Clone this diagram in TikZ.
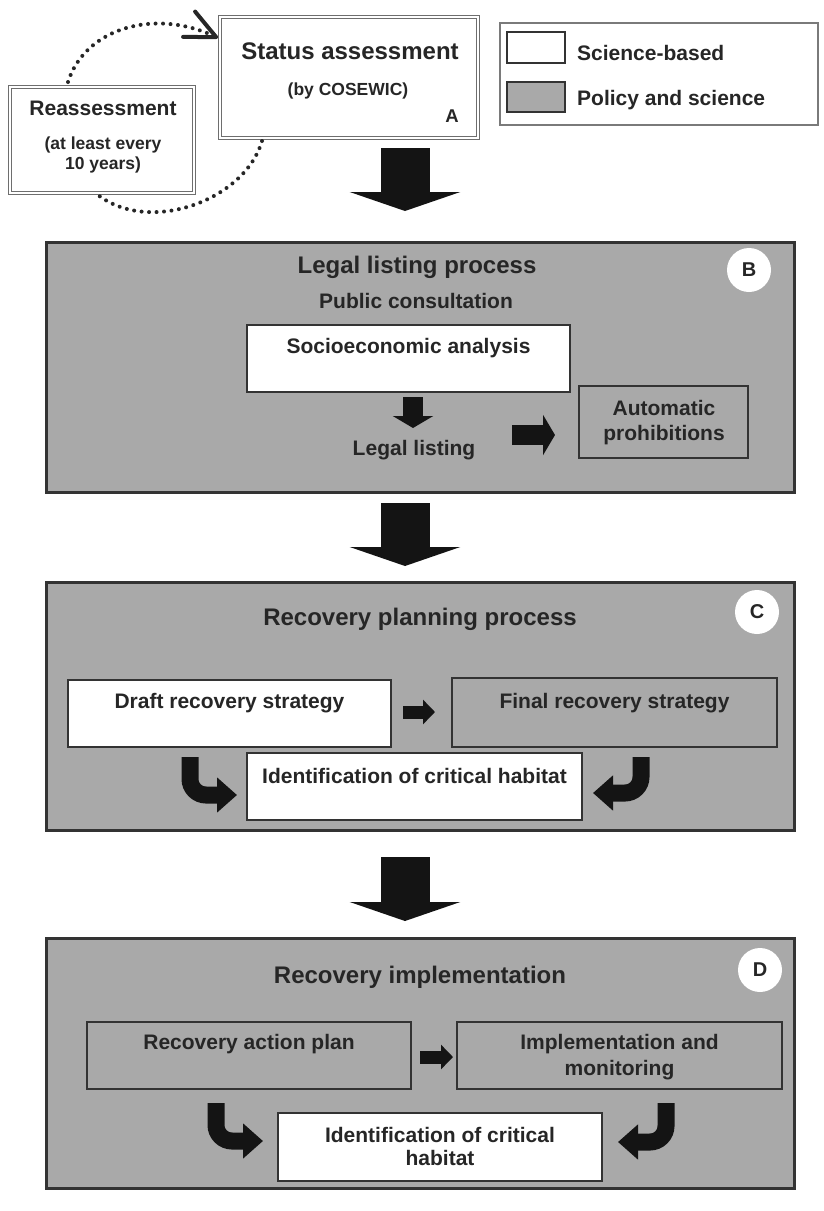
\documentclass[tikz,border=0pt]{standalone}
\usepackage{fontspec}
\setmainfont{Liberation Sans}
\usetikzlibrary{arrows.meta,calc}
\definecolor{panelgray}{HTML}{A9A9A9}
\definecolor{edge}{HTML}{333333}
\definecolor{ink}{HTML}{262626}
\definecolor{dbl}{HTML}{6E6E6E}
\definecolor{legedge}{HTML}{7A7A7A}
\begin{document}
\begin{tikzpicture}[x=1pt,y=-1pt,
  panel/.style={draw=edge,line width=3pt,fill=panelgray,inner sep=0,outer sep=0,anchor=north west},
  wbox/.style={draw=edge,line width=2.5pt,fill=white,inner sep=0,outer sep=0,anchor=north west},
  gbox/.style={draw=edge,line width=2.5pt,fill=panelgray,inner sep=0,outer sep=0,anchor=north west},
  dbox/.style={draw=dbl,double=white,double distance=2pt,line width=1.4pt,fill=white,inner sep=0,outer sep=0,anchor=north west},
  ttl/.style={font=\bfseries\fontsize{24}{28}\selectfont,text=ink,inner sep=0,anchor=base},
  txt/.style={font=\bfseries\fontsize{21}{25}\selectfont,text=ink,inner sep=0,anchor=base},
  sml/.style={font=\bfseries\fontsize{17.5}{21}\selectfont,text=ink,inner sep=0,anchor=base},
  lgd/.style={font=\bfseries\fontsize{21}{25}\selectfont,text=ink,inner sep=0,anchor=base west},
  badge/.style={circle,fill=white,minimum size=44pt,inner sep=0,font=\bfseries\fontsize{20}{24}\selectfont,text=ink},
  bigarrow/.style={draw=black!92,line width=49pt,-{Triangle[length=19pt,width=110pt]}},
  sarrowv/.style={draw=black!92,line width=20pt,-{Triangle[length=12pt,width=40pt]}},
  sarrowh/.style={draw=black!92,line width=13pt,-{Triangle[length=12pt,width=24pt]}},
  carrow/.style={draw=black!92,line width=17pt,rounded corners=16pt,-{Triangle[length=20pt,width=34pt]}},
  dots/.style={draw=ink,line width=4pt,dash pattern=on 0pt off 7.5pt,line cap=round}
]
\useasboundingbox[fill=white] (0,0) rectangle (823,1211);

% ---- A: status assessment ----
\node[dbox,minimum width=258pt,minimum height=121pt] (status) at (220,17) {};
\node[ttl] (statusT) at (350,59) {Status assessment};
\node[sml] (statusS) at (348,95) {(by COSEWIC)};
\node[font=\bfseries\fontsize{18.5}{22}\selectfont,text=ink,inner sep=0,anchor=base] (labA) at (452,122) {A};

\node[dbox,minimum width=184pt,minimum height=106pt] (reassess) at (10,87) {};
\node[font=\bfseries\fontsize{21}{25}\selectfont,text=ink,inner sep=0,anchor=base] (reT) at (103,115) {Reassessment};
\node[sml] (reS1) at (103,149) {(at least every};
\node[sml] (reS2) at (103,169) {10 years)};

\draw[dots,-{Straight Barb[length=30pt,width=28pt,line width=4pt,round]}]
  ($(reassess.north)+(-34,-5)$) .. controls (85,28) and (155,8) .. ($(status.west)+(-2,-39.5)$);
\draw[dots] ($(status.south)+(-87,3)$) .. controls (245,200) and (150,235) .. ($(reassess.south)+(-4,2)$);

% ---- legend ----
\node[draw=legedge,line width=1.8pt,fill=white,inner sep=0,outer sep=0,anchor=north west,
      minimum width=318pt,minimum height=102pt] (legend) at (500,23) {};
\node[wbox,minimum width=58pt,minimum height=31pt] (swW) at (507,32) {};
\node[gbox,minimum width=58pt,minimum height=30pt] (swG) at (507,82) {};
\node[lgd] (lgW) at (577,60) {Science-based};
\node[lgd] (lgG) at (577,105) {Policy and science};

% ---- B ----
\node[panel,minimum width=748pt,minimum height=250pt] (panelB) at (46,242) {};
\node[ttl] (titleB) at (417,273) {Legal listing process};
\node[badge] (badgeB) at (749,270) {B};
\node[txt] (pubcons) at (416,308) {Public consultation};
\node[wbox,minimum width=323pt,minimum height=67pt] (socio) at (247,325) {};
\node[txt] (socioT) at (408.5,353) {Socioeconomic analysis};
\node[txt] (listing) at (414,455) {Legal listing};
\node[gbox,minimum width=169pt,minimum height=72pt] (auto) at (579,386) {};
\node[txt] (autoT1) at (664,415) {Automatic};
\node[txt] (autoT2) at (664,440) {prohibitions};
\draw[sarrowv] ($(socio.south)+(4.5,5)$) -- ($(socio.south)+(4.5,36)$);
\draw[sarrowv] ($(auto.west)+(-67,13)$) -- ($(auto.west)+(-24,13)$);

% ---- C ----
\node[panel,minimum width=748pt,minimum height=248pt] (panelC) at (46,582) {};
\node[ttl] (titleC) at (420,625) {Recovery planning process};
\node[badge] (badgeC) at (757,612) {C};
\node[wbox,minimum width=323pt,minimum height=67pt] (draft) at (68,680) {};
\node[txt] (draftT) at (229.5,708) {Draft recovery strategy};
\node[gbox,minimum width=325pt,minimum height=69pt] (final) at (452,678) {};
\node[txt] (finalT) at (614.5,708) {Final recovery strategy};
\node[wbox,minimum width=335pt,minimum height=67pt] (identC) at (247,753) {};
\node[txt] (identCT) at (414.5,783) {Identification of critical habitat};
\draw[sarrowh] ($(draft.east)+(12,-1.5)$) -- ($(final.west)+(-17,-0.5)$);
\draw[carrow] ($(draft.south west)+(122,10)$) |- ($(identC.west)+(-10,8.5)$);
\draw[carrow] ($(final.south west)+(189,10)$) |- ($(identC.east)+(11,6.5)$);

% ---- D ----
\node[panel,minimum width=748pt,minimum height=250pt] (panelD) at (46,938) {};
\node[ttl] (titleD) at (420,983) {Recovery implementation};
\node[badge] (badgeD) at (760,970) {D};
\node[gbox,minimum width=324pt,minimum height=67pt] (rap) at (87,1022) {};
\node[txt] (rapT) at (249,1049) {Recovery action plan};
\node[gbox,minimum width=325pt,minimum height=67pt] (impl) at (457,1022) {};
\node[txt] (implT1) at (619.5,1049) {Implementation and};
\node[txt] (implT2) at (619.5,1075) {monitoring};
\node[wbox,minimum width=324pt,minimum height=68pt] (identD) at (278,1113) {};
\node[txt] (identDT1) at (440,1142) {Identification of critical};
\node[txt] (identDT2) at (440,1165) {habitat};
\draw[sarrowh] ($(rap.east)+(9,1.5)$) -- ($(impl.west)+(-4,1.5)$);
\draw[carrow] ($(rap.south west)+(129,14)$) |- ($(identD.west)+(-15,-6)$);
\draw[carrow] ($(impl.south west)+(209,14)$) |- ($(identD.east)+(16,-5)$);

% ---- big arrows between stages ----
\draw[bigarrow] ($(status.south)+(56,10)$) -- ($(panelB.north)+(-15,-31)$);
\draw[bigarrow] ($(panelB.south)+(-15,11)$) -- ($(panelC.north)+(-15,-16)$);
\draw[bigarrow] ($(panelC.south)+(-15,27)$) -- ($(panelD.north)+(-15,-17)$);
\end{tikzpicture}
\end{document}
